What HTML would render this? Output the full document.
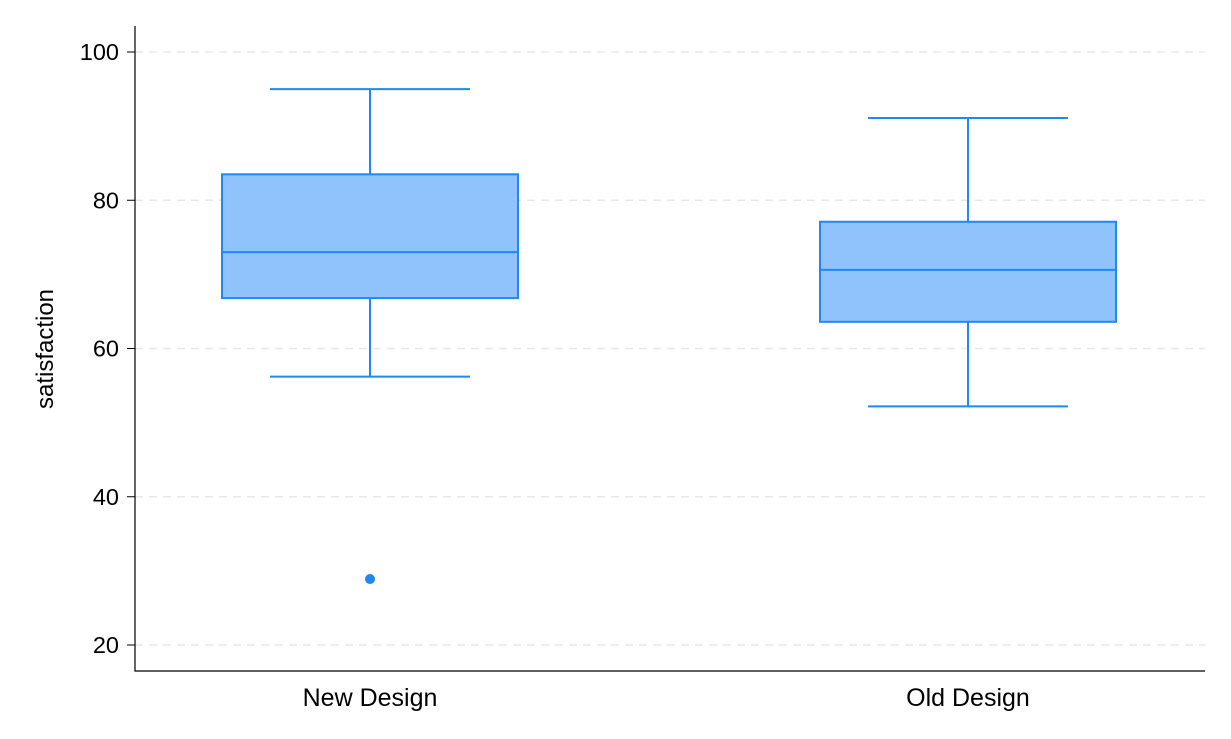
<!DOCTYPE html>
<html><head><meta charset="utf-8"><style>
body{margin:0;background:#fff;}
svg{display:block;font-family:"Liberation Sans",Arial,sans-serif;}
</style></head><body>
<svg id="chart" width="1231" height="739"></svg>
<script>
const categories=["New Design","Old Design"];
const whiskerLow=[56.2,52.2];
const q1=[66.8,63.6];
const median=[73.0,70.6];
const q3=[83.5,77.1];
const whiskerHigh=[95.0,91.1];
const outliers=[[28.9],[]];
const yTicks=[20,40,60,80,100];
const NS="http://www.w3.org/2000/svg";
const svg=document.getElementById('chart');
const y=v=>645-(v-20)*(593/80);
const x=i=>370+i*598;
function mk(t,a,p){const e=document.createElementNS(NS,t);for(const k in a)e.setAttribute(k,a[k]);(p||svg).appendChild(e);return e;}
yTicks.forEach(t=>{
  const g=mk('line',{x1:135,x2:1205,y1:y(t),y2:y(t),stroke:'#e8e8e8','stroke-width':1.5,'stroke-dasharray':'8,6'});
  
  
  const tk=mk('line',{x1:127,x2:135,y1:y(t),y2:y(t),stroke:'#000','stroke-width':1});
  
  
  const tx=mk('text',{x:119,y:y(t)+8,'text-anchor':'end','font-size':23.5,fill:'#000'});
  tx.textContent=t;
  
  
});
const ax=mk('path',{d:'M135,26 L135,671 L1205,671',fill:'none',stroke:'#000','stroke-width':1.2});


const yt=mk('text',{x:53,y:349,'text-anchor':'middle','font-size':24,fill:'#000',transform:'rotate(-90 53 349)'});
yt.textContent='satisfaction';


const c='#1e88f5';
categories.forEach((cat,i)=>{
  const cx=x(i);
  const g=mk('g',{});
  
  
  mk('line',{x1:cx,x2:cx,y1:y(whiskerHigh[i]),y2:y(q3[i]),stroke:c,'stroke-width':2},g);
  mk('line',{x1:cx,x2:cx,y1:y(q1[i]),y2:y(whiskerLow[i]),stroke:c,'stroke-width':2},g);
  mk('line',{x1:cx-100,x2:cx+100,y1:y(whiskerHigh[i]),y2:y(whiskerHigh[i]),stroke:c,'stroke-width':2},g);
  mk('line',{x1:cx-100,x2:cx+100,y1:y(whiskerLow[i]),y2:y(whiskerLow[i]),stroke:c,'stroke-width':2},g);
  mk('rect',{x:cx-148,y:y(q3[i]),width:296,height:y(q1[i])-y(q3[i]),fill:'#90c2fc',stroke:c,'stroke-width':2},g);
  mk('line',{x1:cx-148,x2:cx+148,y1:y(median[i]),y2:y(median[i]),stroke:c,'stroke-width':2},g);
  outliers[i].forEach(o=>{
    const d=mk('circle',{cx:cx,cy:y(o),r:5,fill:c});
    
    
  });
  const tx=mk('text',{x:cx,y:706,'text-anchor':'middle','font-size':25,fill:'#000'});
  tx.textContent=cat;
  
  
});
</script>
</body></html>
